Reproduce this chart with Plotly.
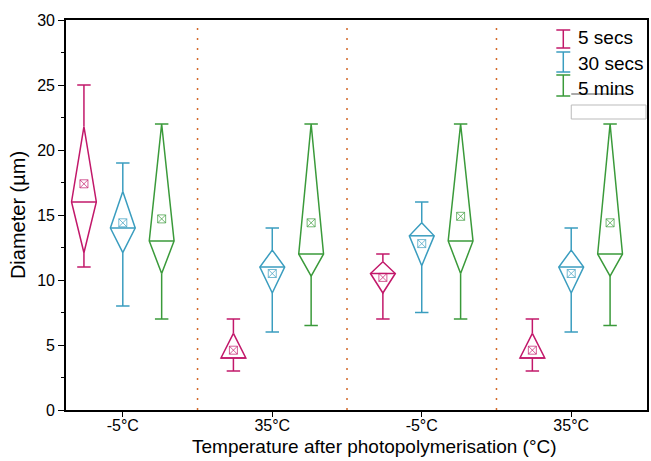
import plotly.graph_objects as go

# ---- data ----
groups = ["-5°C", "35°C", "-5°C", "35°C"]
series = ["5 secs", "30 secs", "5 mins"]
colors = ["#C2186A", "#3A9DBF", "#3A9A3A"]

# per series: lists over the 4 groups
mins    = [[11, 3.0, 7.0, 3.0], [8.0, 6.0, 7.5, 6.0], [7.0, 6.5, 7.0, 6.5]]
q1      = [[12.1, 4.0, 9.0, 4.0], [12.1, 9.0, 11.1, 9.0], [10.5, 10.3, 10.5, 10.3]]
medians = [[16.0, 4.0, 10.5, 4.0], [14.0, 11.0, 13.4, 11.0], [13.0, 12.0, 13.0, 12.0]]
q3      = [[21.8, 5.9, 11.4, 5.9], [16.8, 12.3, 14.4, 12.3], [22.0, 22.0, 22.0, 22.0]]
maxs    = [[25.0, 7.0, 12.0, 7.0], [19.0, 14.0, 16.0, 14.0], [22.0, 22.0, 22.0, 22.0]]
means   = [[17.4, 4.6, 10.2, 4.6], [14.4, 10.5, 12.8, 10.5], [14.7, 14.4, 14.9, 14.4]]

group_pos = [1, 2, 3, 4]
separators = [1.5, 2.5, 3.5]
y_range = [0, 30]

# ---- styling ----
offset = 0.26      # series offset within a group (x units)
hw = 0.083         # diamond half width
cw = 0.045         # cap half width
FONT = "Liberation Sans, Arial, sans-serif"

fig = go.Figure()

for s in range(3):
    xs, ys = [], []
    mx, my = [], []
    for g in range(4):
        xc = group_pos[g] + (s - 1) * offset
        lo, a, m, b, hi = mins[s][g], q1[s][g], medians[s][g], q3[s][g], maxs[s][g]
        xs += [xc, xc + hw, xc, xc - hw, xc, None]
        ys += [b, m, a, m, b, None]
        xs += [xc - hw, xc + hw, None]
        ys += [m, m, None]
        xs += [xc, xc, None, xc, xc, None]
        ys += [b, hi, None, a, lo, None]
        xs += [xc - cw, xc + cw, None, xc - cw, xc + cw, None]
        ys += [hi, hi, None, lo, lo, None]
        mx.append(xc)
        my.append(means[s][g])
    fig.add_trace(go.Scatter(x=xs, y=ys, mode="lines", name=series[s],
                             line=dict(color=colors[s], width=1.5),
                             showlegend=False, hoverinfo="skip"))
    fig.add_trace(go.Scatter(x=mx, y=my, mode="markers", showlegend=False,
                             marker=dict(symbol="square-x-open", size=8,
                                         color=colors[s], opacity=0.7,
                                         line=dict(width=1, color=colors[s]))))

for xv in separators:
    fig.add_shape(type="line", x0=xv, x1=xv, y0=y_range[0], y1=y_range[1],
                  xref="x", yref="y",
                  line=dict(color="#D2692A", width=1.5, dash="2px,8px"))

# ---- manual legend (I-beam icons) ----
L, R, T, B = 66, 649, 20, 410
def px(x):
    return (x - L) / (R - L)
def py(y):
    return (B - y) / (B - T)

icon_x = 565
icon_spans = [(30, 48), (52, 72), (75, 96)]
text_y = [38, 63, 88]
for s in range(3):
    y0, y1 = icon_spans[s]
    fig.add_shape(type="line", xref="paper", yref="paper",
                  x0=px(icon_x), x1=px(icon_x), y0=py(y0), y1=py(y1),
                  line=dict(color=colors[s], width=1.5))
    for yy in (y0, y1):
        fig.add_shape(type="line", xref="paper", yref="paper",
                      x0=px(icon_x - 7), x1=px(icon_x + 7), y0=py(yy), y1=py(yy),
                      line=dict(color=colors[s], width=1.5))
    fig.add_annotation(xref="paper", yref="paper", x=px(578), y=py(text_y[s]),
                       text=series[s], showarrow=False, xanchor="left",
                       yanchor="middle", font=dict(family=FONT, size=19, color="black"))

fig.add_shape(type="line", xref="paper", yref="paper",
              x0=px(573), x1=px(629), y0=py(94), y1=py(94),
              line=dict(color="#555555", width=1))
fig.add_shape(type="rect", xref="paper", yref="paper",
              x0=px(573), x1=px(648), y0=py(119), y1=py(105),
              line=dict(color="#BBBBBB", width=1))

# x-axis title as annotation (placed like the reference)
fig.add_annotation(xref="paper", yref="paper", x=px(376), y=py(446),
                   text="Temperature after photopolymerisation (°C)", showarrow=False,
                   xanchor="center", yanchor="middle",
                   font=dict(family=FONT, size=19, color="black"))

fig.update_layout(
    width=651, height=461,
    margin=dict(l=L, r=651 - R, t=T, b=461 - B),
    paper_bgcolor="white", plot_bgcolor="white",
    font=dict(family=FONT, size=16, color="black"),
    showlegend=False,
)
fig.update_xaxes(
    range=[0.62, 4.507], tickvals=group_pos, ticktext=groups,
    showline=True, linecolor="black", linewidth=1.6, mirror=True,
    ticks="outside", ticklen=5, tickwidth=1.2, tickcolor="black",
    showgrid=False, zeroline=False, tickfont=dict(size=16),
)
try:
    fig.update_xaxes(ticklabelstandoff=-5)
except Exception:
    pass
fig.update_yaxes(
    range=y_range, dtick=5, tick0=0,
    showline=True, linecolor="black", linewidth=1.6, mirror=True,
    ticks="outside", ticklen=6, tickwidth=1.2, tickcolor="black",
    minor=dict(dtick=2.5, ticks="outside", ticklen=3, tickcolor="black", tickwidth=1),
    showgrid=False, zeroline=False, tickfont=dict(size=16),
    title=dict(text="Diameter (µm)", font=dict(size=20), standoff=6),
)

fig.write_html("out.html")
